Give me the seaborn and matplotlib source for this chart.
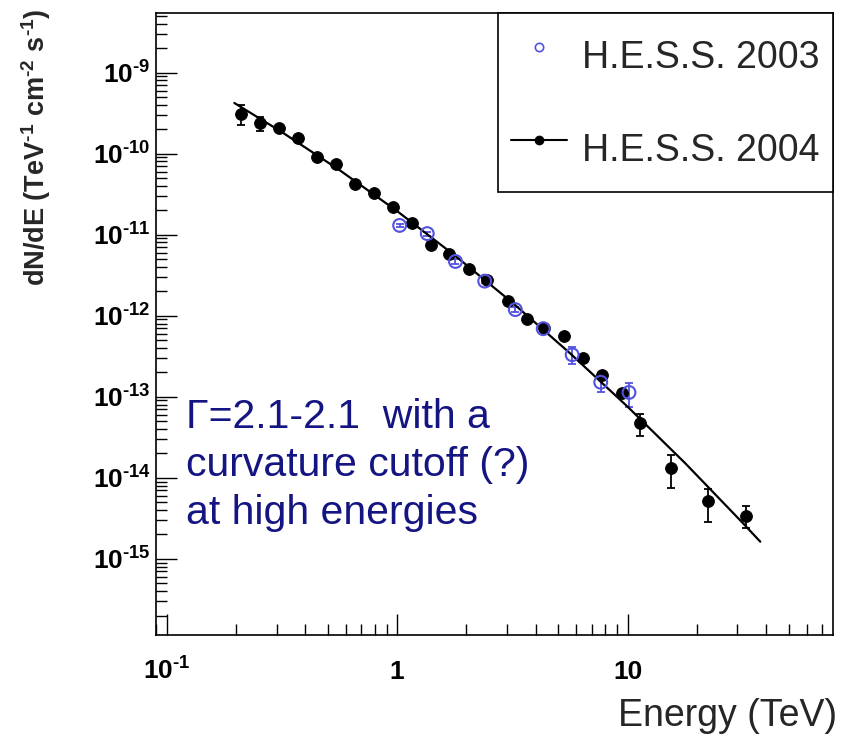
import pandas as pd
import seaborn as sns
import matplotlib.pyplot as plt
from matplotlib.lines import Line2D
from matplotlib.ticker import LogLocator, NullFormatter

# H.E.S.S. 2004 (filled black points)
energy_2004 = [0.210, 0.254, 0.308, 0.371, 0.450, 0.542, 0.659, 0.791, 0.959, 1.161,
               1.404, 1.687, 2.046, 2.448, 3.018, 3.646, 4.35, 5.325, 6.42, 7.76,
               9.44, 11.33, 15.38, 22.38, 32.8]
flux_2004 = [3.08e-10, 2.38e-10, 2.05e-10, 1.54e-10, 9.13e-11, 7.41e-11, 4.19e-11, 3.27e-11,
             2.20e-11, 1.38e-11, 7.38e-12, 5.75e-12, 3.72e-12, 2.74e-12, 1.51e-12, 9.10e-13,
             7.05e-13, 5.56e-13, 3.03e-13, 1.83e-13, 1.10e-13, 4.70e-14, 1.34e-14, 5.15e-15,
             3.39e-15]
flux_2004_hi = [4.02e-10, 2.80e-10, 2.20e-10, 1.65e-10, 9.7e-11, 7.9e-11, 4.45e-11, 3.47e-11,
                2.33e-11, 1.46e-11, 7.9e-12, 6.1e-12, 3.95e-12, 2.9e-12, 1.6e-12, 9.7e-13,
                7.5e-13, 5.9e-13, 3.25e-13, 1.98e-13, 1.22e-13, 6.07e-14, 1.91e-14, 7.25e-15,
                4.50e-15]
flux_2004_lo = [2.25e-10, 1.88e-10, 1.90e-10, 1.43e-10, 8.6e-11, 6.9e-11, 3.95e-11, 3.07e-11,
                2.07e-11, 1.30e-11, 6.6e-12, 5.4e-12, 3.5e-12, 2.58e-12, 1.42e-12, 8.5e-13,
                6.6e-13, 5.2e-13, 2.8e-13, 1.68e-13, 0.98e-13, 3.31e-14, 7.59e-15, 2.85e-15,
                2.40e-15]

# H.E.S.S. 2003 (open blue circles)
energy_2003 = [1.025, 1.351, 1.791, 2.399, 3.258, 4.306, 5.75, 7.65, 10.15]
flux_2003 = [1.30e-11, 1.03e-11, 4.67e-12, 2.67e-12, 1.19e-12, 6.92e-13, 3.30e-13, 1.51e-13, 1.13e-13]
flux_2003_hi = [1.37e-11, 1.09e-11, 4.95e-12, 2.83e-12, 1.27e-12, 7.4e-13, 4.06e-13, 1.95e-13, 1.47e-13]
flux_2003_lo = [1.23e-11, 0.97e-11, 4.40e-12, 2.52e-12, 1.11e-12, 6.45e-13, 2.52e-13, 1.13e-13, 7.57e-14]

# fitted curve
fit_energy = [0.1965, 0.316, 0.562, 1.0, 1.778, 3.162, 5.623, 10.0, 17.78, 31.62, 37.7]
fit_flux = [4.21e-10, 1.84e-10, 6.26e-11, 1.95e-11, 5.54e-12, 1.45e-12, 3.45e-13, 7.56e-14,
            1.52e-14, 2.78e-15, 1.63e-15]

x_ticks = [0.1, 1, 10]
x_tick_labels = [r'$10^{\text{-}1}$', '1', '10']
y_ticks = [1e-15, 1e-14, 1e-13, 1e-12, 1e-11, 1e-10, 1e-9]
y_tick_labels = [r'$10^{\text{-}15}$', r'$10^{\text{-}14}$', r'$10^{\text{-}13}$', r'$10^{\text{-}12}$',
                 r'$10^{\text{-}11}$', r'$10^{\text{-}10}$', r'$10^{\text{-}9}$']
legend_labels = ['H.E.S.S. 2003', 'H.E.S.S. 2004']
note = 'Γ=2.1-2.1  with a\ncurvature cutoff (?)\nat high energies'

BLUE = '#5252e0'
NAVY = '#141482'

sns.set_style('ticks')
plt.rcParams['font.family'] = ['Liberation Sans', 'DejaVu Sans']
plt.rcParams['mathtext.fontset'] = 'custom'
plt.rcParams['mathtext.rm'] = 'Liberation Sans:bold'
plt.rcParams['mathtext.bf'] = 'Liberation Sans:bold'
plt.rcParams['mathtext.default'] = 'bf'

df04 = pd.DataFrame({'energy': energy_2004, 'flux': flux_2004,
                     'lo': flux_2004_lo, 'hi': flux_2004_hi})
df03 = pd.DataFrame({'energy': energy_2003, 'flux': flux_2003,
                     'lo': flux_2003_lo, 'hi': flux_2003_hi})
fit = pd.DataFrame({'energy': fit_energy, 'flux': fit_flux})

fig = plt.figure(figsize=(8.41, 7.36), dpi=100)
ax = fig.add_axes([0.1858, 0.1372, 0.8047, 0.8458])
ax.set_xscale('log')
ax.set_yscale('log')

# error bars first, markers on top
ax.errorbar(df04['energy'], df04['flux'],
            yerr=[df04['flux'] - df04['lo'], df04['hi'] - df04['flux']],
            fmt='none', ecolor='black', elinewidth=1.3, capsize=3, capthick=1.3, zorder=2)
ax.errorbar(df03['energy'], df03['flux'],
            yerr=[df03['flux'] - df03['lo'], df03['hi'] - df03['flux']],
            fmt='none', ecolor=BLUE, elinewidth=1.3, capsize=3, capthick=1.3, zorder=2)

sns.lineplot(data=fit, x='energy', y='flux', color='black', linewidth=1.6, sort=False,
             ax=ax, zorder=3, legend=False)
sns.scatterplot(data=df04, x='energy', y='flux', color='black', edgecolor='black',
                s=72, ax=ax, zorder=4, legend=False)
sns.scatterplot(data=df03, x='energy', y='flux', facecolor='none', edgecolor=BLUE,
                linewidth=1.5, s=85, ax=ax, zorder=5, legend=False)

ax.set_xlim(0.09, 78)
ax.set_ylim(1.15e-16, 5.5e-9)

ax.set_xticks(x_ticks, labels=x_tick_labels)
ax.set_yticks(y_ticks, labels=y_tick_labels)
ax.xaxis.set_minor_locator(LogLocator(base=10, subs=range(2, 10), numticks=20))
ax.yaxis.set_minor_locator(LogLocator(base=10, subs=range(2, 10), numticks=30))
ax.xaxis.set_minor_formatter(NullFormatter())
ax.yaxis.set_minor_formatter(NullFormatter())

ax.tick_params(which='both', direction='in', top=False, right=False, width=1, colors='black')
ax.tick_params(which='major', length=15)
ax.tick_params(which='minor', length=8)
ax.tick_params(axis='y', labelsize=19, pad=4)
ax.tick_params(axis='x', labelsize=19, pad=32)
for lab in ax.get_xticklabels():
    lab.set_va('baseline')
    lab.set_fontweight('bold')
for lab in ax.get_yticklabels():
    lab.set_fontweight('bold')

for s in ax.spines.values():
    s.set_linewidth(1.2)
    s.set_color('black')

ax.set_ylabel(r'dN/dE (TeV$^{\text{-}1}$ cm$^{\text{-}2}$ s$^{\text{-}1}$)', fontsize=19.5,
              fontweight='bold', loc='top')
ax.yaxis.set_label_coords(-0.153, 1.006)
ax.set_xlabel('Energy (TeV)', fontsize=27, loc='right')
ax.xaxis.set_label_coords(1.006, -0.101)

ax.text(0.0446, 0.381, note, transform=ax.transAxes, fontsize=29.5, color=NAVY,
        ha='left', va='top', linespacing=1.33)

handles = [
    Line2D([0], [0], marker='o', linestyle='none', markerfacecolor='none',
           markeredgecolor=BLUE, markersize=6, markeredgewidth=1.2),
    Line2D([0], [0], marker='o', color='black', markersize=6, linewidth=1.5),
]
leg = ax.legend(handles, legend_labels, loc='upper right', bbox_to_anchor=(1.0, 1.0),
                fontsize=27, frameon=True, fancybox=False, edgecolor='black', framealpha=1,
                borderpad=0.35, labelspacing=0.87, handlelength=1.5, handletextpad=0.4,
                handleheight=2.1, borderaxespad=0)
leg.get_frame().set_linewidth(1.2)

fig.savefig('out.png', dpi=100)
